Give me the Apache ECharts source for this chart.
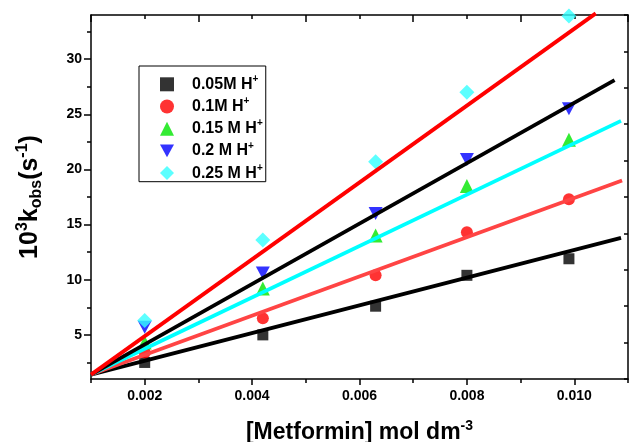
<!DOCTYPE html>
<html>
<head>
<meta charset="utf-8">
<script src="https://cdn.jsdelivr.net/npm/echarts@6/dist/echarts.min.js"></script>
<style>
  html, body { margin: 0; padding: 0; background: #fff; }
  #kobsChart { width: 629px; height: 442px; }
</style>
</head>
<body>
<div id="kobsChart"></div>
<script>
// [Metformin] values (mol dm-3)
var metformin = [0.002, 0.0042, 0.0063, 0.0080, 0.0099];

// 10^3 kobs (s-1) for each acid concentration
var kobs005 = [2.5, 5.0, 7.6, 10.4, 11.9];
var kobs01 = [3.4, 6.5, 10.4, 14.3, 17.3];
var kobs015 = [4.3, 9.2, 14.0, 18.5, 22.7];
var kobs02 = [5.7, 10.6, 16.0, 20.9, 25.5];
var kobs025 = [6.3, 13.6, 20.7, 27.0, 33.9];

// fitted straight lines, start and end
var fitStart = [0.001, 1.4];
var fitEnd005 = [0.01087, 13.8];
var fitEnd01 = [0.01089, 19.0];
var fitEnd015 = [0.01087, 24.4];
var fitEnd02 = [0.01075, 28.1];
var fitEnd025 = [0.0104, 34.15];

var legendNames = ['0.05M H+', '0.1M H+', '0.15 M H+', '0.2 M H+', '0.25 M H+'];

// tick positions
var xLabelTicks = [0.002, 0.004, 0.006, 0.008, 0.010];
var xMinorTicks = [0.001, 0.003, 0.005, 0.007, 0.009, 0.011];
var yLabelTicks = [5, 10, 15, 20, 25, 30];
var yMinorTicks = [2.5, 7.5, 12.5, 17.5, 22.5, 27.5, 32.5];

function pairs(xs, ys) {
    var out = [];
    for (var i = 0; i < xs.length; i++) {
        out.push([xs[i], ys[i]]);
    }
    return out;
}

function kobsChart() {
    var font = 'Liberation Sans, Arial, sans-serif';
    var axisLine = {show: true, lineStyle: {color: '#000', width: 1.5}};

    var pointSeries = [
        {name: legendNames[0], symbol: 'rect', symbolSize: 11, color: '#000000', data: kobs005},
        {name: legendNames[1], symbol: 'circle', symbolSize: 12, color: '#ff0000', data: kobs01},
        {name: legendNames[2], symbol: 'triangle', symbolSize: 14, color: '#00e600', data: kobs015},
        {name: legendNames[3], symbol: 'path://M0,0L10,0L5,9Z', symbolSize: [14, 13], color: '#0000ff', data: kobs02},
        {name: legendNames[4], symbol: 'diamond', symbolSize: 15, color: '#33ffff', data: kobs025}
    ];

    var fitLines = [
        {end: fitEnd005, color: '#000000'},
        {end: fitEnd01, color: '#ff4444'},
        {end: fitEnd015, color: '#00ffff'},
        {end: fitEnd02, color: '#000000'},
        {end: fitEnd025, color: '#ff0000'}
    ];

    var series = [];
    pointSeries.forEach(function (p) {
        series.push({
            name: p.name,
            type: 'scatter',
            xAxisIndex: 0,
            yAxisIndex: 0,
            symbol: p.symbol,
            symbolSize: p.symbolSize,
            itemStyle: {color: p.color},
            z: 2,
            data: pairs(metformin, p.data)
        });
    });
    fitLines.forEach(function (f, i) {
        series.push({
            name: 'fit' + i,
            type: 'line',
            xAxisIndex: 0,
            yAxisIndex: 0,
            showSymbol: false,
            clip: false,
            lineStyle: {color: f.color, width: 3.8},
            itemStyle: {color: f.color},
            z: 3,
            data: [fitStart, f.end]
        });
    });

    var kobsOption = {
        animation: false,
        backgroundColor: '#fff',
        textStyle: {fontFamily: font},
        grid: {left: 91, right: 1, top: 15, bottom: 63, outerBoundsMode: 'none'},
        legend: {
            data: legendNames,
            orient: 'vertical',
            left: 139,
            top: 66,
            padding: [8.3, 3, 0.6, 21],
            itemGap: 4.2,
            itemWidth: 14,
            itemHeight: 14,
            backgroundColor: '#fff',
            borderColor: '#000',
            borderWidth: 1,
            formatter: function (name) {
                return '{a|' + name.slice(0, -1) + '}{s|+}';
            },
            textStyle: {
                rich: {
                    a: {fontFamily: font, fontSize: 16, fontWeight: 'bold', color: '#000', lineHeight: 20, padding: [0, 0, 0, 13]},
                    s: {fontFamily: font, fontSize: 10, fontWeight: 'bold', color: '#000', lineHeight: 10, verticalAlign: 'top'}
                }
            }
        },
        xAxis: [
            {
                type: 'value',
                position: 'bottom',
                min: 0.001,
                max: 0.011,
                axisLine: axisLine,
                axisTick: {show: true, customValues: xLabelTicks, length: 6, lineStyle: {color: '#000', width: 1.5}},
                axisLabel: {
                    customValues: xLabelTicks,
                    margin: 10,
                    color: '#000',
                    fontFamily: font,
                    fontSize: 14,
                    fontWeight: 'bold',
                    formatter: function (v) { return v.toFixed(3); }
                },
                splitLine: {show: false},
                name: '{a|[Metformin] mol dm}{s|-3}',
                nameLocation: 'middle',
                nameGap: 40,
                nameTextStyle: {
                    rich: {
                        a: {fontFamily: font, fontSize: 23, fontWeight: 'bold', color: '#000', lineHeight: 28},
                        s: {fontFamily: font, fontSize: 14, fontWeight: 'bold', color: '#000', lineHeight: 14, verticalAlign: 'top'}
                    }
                }
            },
            {
                type: 'value',
                position: 'bottom',
                min: 0.001,
                max: 0.011,
                axisLine: {show: false},
                axisTick: {show: true, customValues: xMinorTicks, length: 4, lineStyle: {color: '#000', width: 1.5}},
                axisLabel: {show: false},
                splitLine: {show: false}
            },
            {
                type: 'value',
                position: 'top',
                min: 0.001,
                max: 0.011,
                axisLine: axisLine,
                axisTick: {show: true, inside: true, customValues: xMinorTicks, length: 7, lineStyle: {color: '#000', width: 1.5}},
                axisLabel: {show: false},
                splitLine: {show: false}
            },
            {
                type: 'value',
                position: 'top',
                min: 0.001,
                max: 0.011,
                axisLine: {show: false},
                axisTick: {show: true, inside: true, customValues: xLabelTicks, length: 4, lineStyle: {color: '#000', width: 1.5}},
                axisLabel: {show: false},
                splitLine: {show: false}
            }
        ],
        yAxis: [
            {
                type: 'value',
                position: 'left',
                min: 1,
                max: 34,
                axisLine: axisLine,
                axisTick: {show: true, customValues: yLabelTicks, length: 7, lineStyle: {color: '#000', width: 1.5}},
                axisLabel: {
                    customValues: yLabelTicks,
                    margin: 9,
                    color: '#000',
                    fontFamily: font,
                    fontSize: 14,
                    fontWeight: 'bold'
                },
                splitLine: {show: false},
                name: '{a|10}{s|3}{a|k}{b|obs}{a|(s}{s|-1}{a|)}',
                nameLocation: 'middle',
                nameRotate: 90,
                nameGap: 46,
                nameTextStyle: {
                    rich: {
                        a: {fontFamily: font, fontSize: 25, fontWeight: 'bold', color: '#000', lineHeight: 30},
                        s: {fontFamily: font, fontSize: 16, fontWeight: 'bold', color: '#000', lineHeight: 16, verticalAlign: 'top'},
                        b: {fontFamily: font, fontSize: 16, fontWeight: 'bold', color: '#000', lineHeight: 14, verticalAlign: 'bottom'}
                    }
                }
            },
            {
                type: 'value',
                position: 'left',
                min: 1,
                max: 34,
                axisLine: {show: false},
                axisTick: {show: true, customValues: yMinorTicks, length: 4, lineStyle: {color: '#000', width: 1.5}},
                axisLabel: {show: false},
                splitLine: {show: false}
            },
            {
                type: 'value',
                position: 'right',
                min: 0,
                max: 10,
                interval: 1,
                axisLine: axisLine,
                axisTick: {show: true, inside: true, length: 4, lineStyle: {color: '#000', width: 1.5}},
                axisLabel: {show: false},
                splitLine: {show: false}
            }
        ],
        series: series
    };

    var chart = echarts.init(document.getElementById('kobsChart'));
    chart.setOption(kobsOption);
}

kobsChart();
</script>
</body>
</html>
